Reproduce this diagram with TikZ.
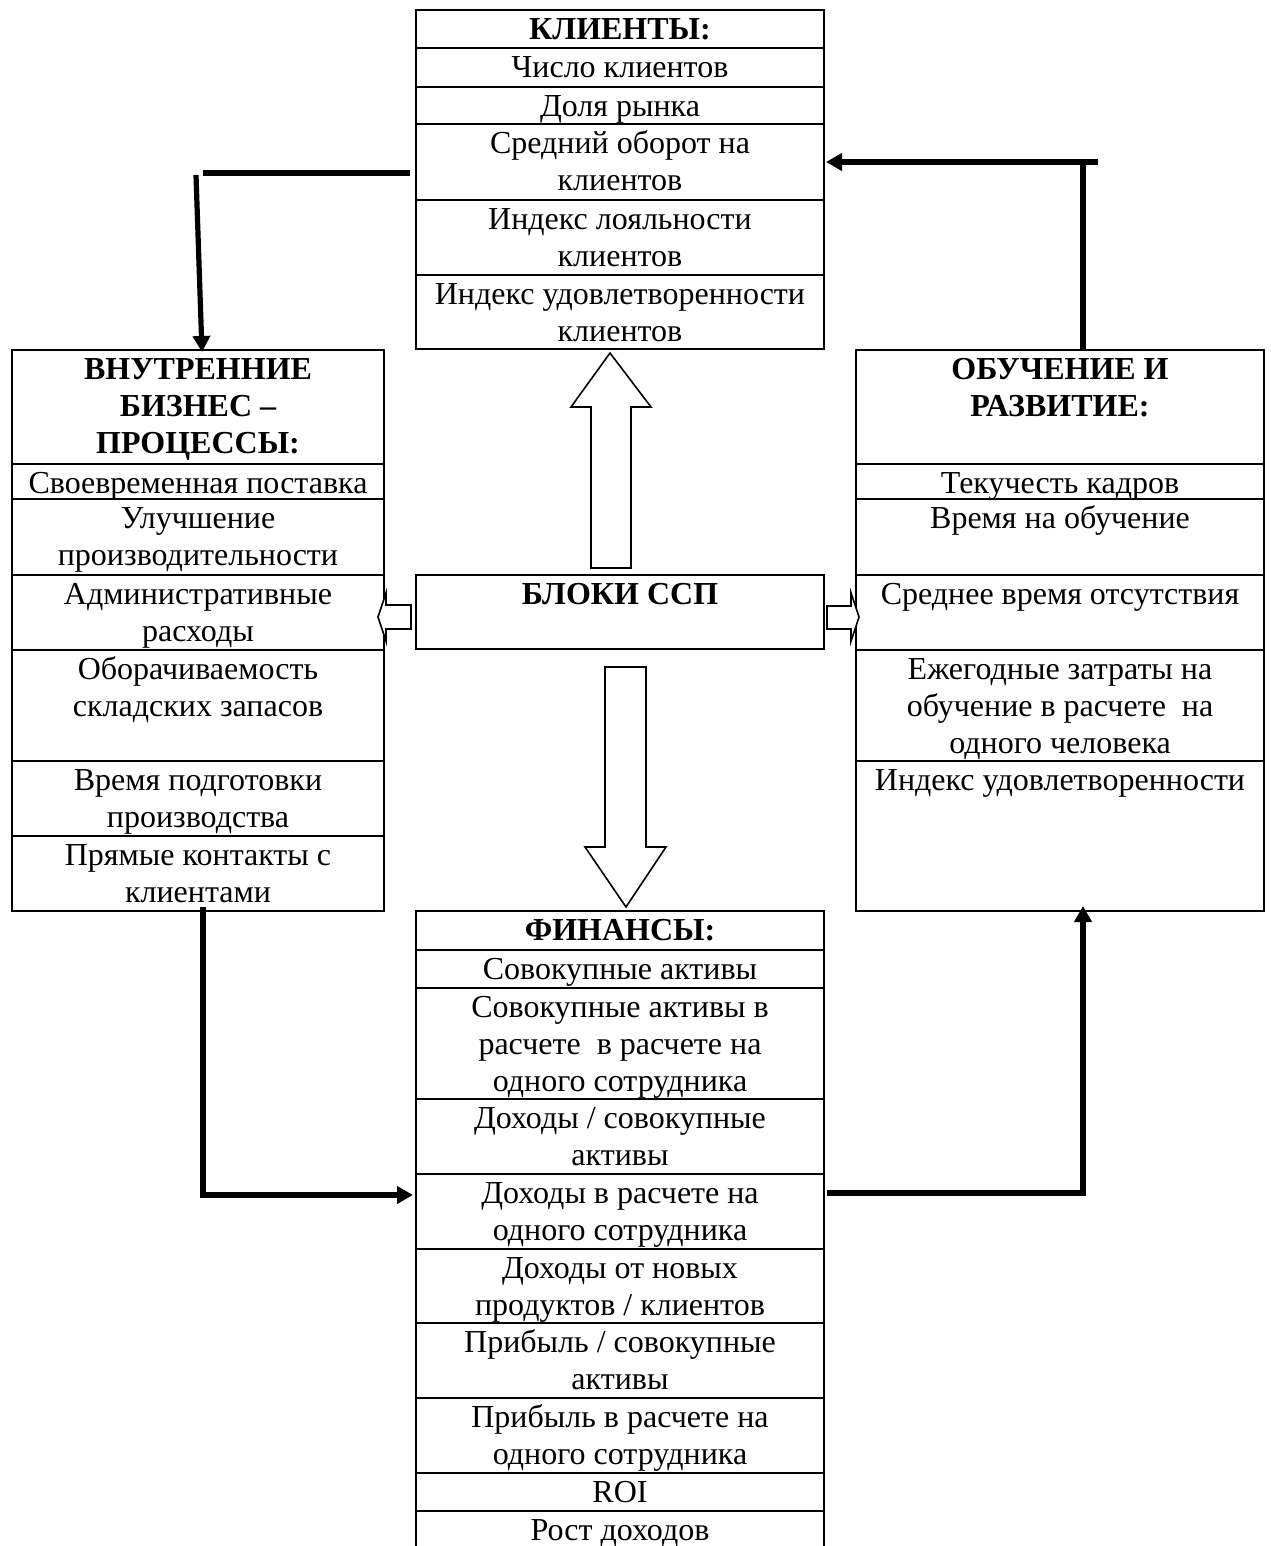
\documentclass[tikz,border=0pt]{standalone}
\usepackage{fontspec}
\setmainfont{Liberation Serif}
\usetikzlibrary{arrows.meta}
\tikzset{
  cell/.style={anchor=north, align=center, inner sep=0pt, font=\fontsize{16}{18.5}\selectfont},
  hcell/.style={anchor=north, align=center, inner sep=0pt, font=\fontsize{16}{18.5}\selectfont\bfseries},
  frame/.style={line width=1.1pt},
  conn/.style={line width=2.6pt},
  tipped/.style={-{Triangle[length=8pt,width=8.5pt]}},
  blockarrow/.style={line width=0.8pt, fill=white, line join=miter},
}
\begin{document}
\begin{tikzpicture}[x=0.5pt,y=-0.5pt]
\useasboundingbox (0,0) rectangle (1270,1546);
\fill[white] (0,0) rectangle (1270,1546);

% ---------- КЛИЕНТЫ ----------
\draw[frame] (416,10) rectangle (824,349);
\foreach \yy in {48,87,124,200,275} \draw[frame] (416,\yy) -- (824,\yy);
\node[hcell] (k0) at (620,13) {\strut КЛИЕНТЫ:};
\node[cell] (k1) at (620,51) {\strut Число клиентов};
\node[cell] (k2) at (620,90) {\strut Доля рынка};
\node[cell] (k3) at (620,127) {\strut Средний оборот на\\клиентов};
\node[cell] (k4) at (620,203) {\strut Индекс лояльности\\клиентов};
\node[cell] (k5) at (620,278) {\strut Индекс удовлетворенности\\клиентов};

% ---------- ВНУТРЕННИЕ БИЗНЕС-ПРОЦЕССЫ ----------
\draw[frame] (12,350) rectangle (384,911);
\foreach \yy in {464,499,575,650,761,836} \draw[frame] (12,\yy) -- (384,\yy);
\node[hcell] (v0) at (198,353) {\strut ВНУТРЕННИЕ\\БИЗНЕС –\\ПРОЦЕССЫ:};
\node[cell] (v1) at (198,467) {\strut Своевременная поставка};
\node[cell] (v2) at (198,502) {\strut Улучшение\\производительности};
\node[cell] (v3) at (198,578) {\strut Административные\\расходы};
\node[cell] (v4) at (198,653) {\strut Оборачиваемость\\складских запасов};
\node[cell] (v5) at (198,764) {\strut Время подготовки\\производства};
\node[cell] (v6) at (198,839) {\strut Прямые контакты с\\клиентами};

% ---------- ОБУЧЕНИЕ И РАЗВИТИЕ ----------
\draw[frame] (856,350) rectangle (1264,911);
\foreach \yy in {464,499,575,650,761} \draw[frame] (856,\yy) -- (1264,\yy);
\node[hcell] (o0) at (1060,353) {\strut ОБУЧЕНИЕ И\\РАЗВИТИЕ:};
\node[cell] (o1) at (1060,467) {\strut Текучесть кадров};
\node[cell] (o2) at (1060,502) {\strut Время на обучение};
\node[cell] (o3) at (1060,578) {\strut Среднее время отсутствия};
\node[cell] (o4) at (1060,653) {\strut Ежегодные затраты на\\обучение в расчете~ на\\одного человека};
\node[cell] (o5) at (1060,764) {\strut Индекс удовлетворенности};

% ---------- БЛОКИ ССП ----------
\draw[frame] (416,575) rectangle (824,649);
\node[hcell] (b0) at (620,578) {\strut БЛОКИ ССП};

% ---------- ФИНАНСЫ ----------
\draw[frame] (416,1546) -- (416,911) -- (824,911) -- (824,1546);
\foreach \yy in {950,988,1099,1174,1249,1323,1398,1473,1511} \draw[frame] (416,\yy) -- (824,\yy);
\node[hcell] (f0) at (620,914) {\strut ФИНАНСЫ:};
\node[cell] (f1) at (620,953) {\strut Совокупные активы};
\node[cell] (f2) at (620,991) {\strut Совокупные активы в\\расчете~ в расчете на\\одного сотрудника};
\node[cell] (f3) at (620,1102) {\strut Доходы / совокупные\\активы};
\node[cell] (f4) at (620,1177) {\strut Доходы в расчете на\\одного сотрудника};
\node[cell] (f5) at (620,1252) {\strut Доходы от новых\\продуктов / клиентов};
\node[cell] (f6) at (620,1326) {\strut Прибыль / совокупные\\активы};
\node[cell] (f7) at (620,1401) {\strut Прибыль в расчете на\\одного сотрудника};
\node[cell] (f8) at (620,1476) {\strut ROI};
\node[cell] (f9) at (620,1514) {\strut Рост доходов};

% ---------- block arrows ----------
\draw[blockarrow] (591,568) -- (591,407) -- (571,407) -- (610,353) -- (651,407) -- (631,407) -- (631,568) -- cycle;
\draw[blockarrow] (605,667) -- (646,667) -- (646,847) -- (666,847) -- (626,907) -- (585,847) -- (605,847) -- cycle;
\draw[blockarrow] (411,605) -- (386,605) -- (386,593) -- (378,617) -- (386,641) -- (386,629) -- (411,629) -- cycle;
\draw[blockarrow] (827,606) -- (851,606) -- (851,593) -- (859,617) -- (851,641) -- (851,629) -- (827,629) -- cycle;

% ---------- connectors ----------
\coordinate (a1) at (410,173);
\coordinate (a2) at (203,173);
\coordinate (a3) at (196,175);
\coordinate (a4) at (202,352);
\draw[conn] (a1) -- (a2);
\draw[conn,tipped] (a3) -- (a4);

\coordinate (b1) at (1098,162);
\coordinate (b2) at (826,162);
\coordinate (b3) at (1083,350);
\coordinate (b4) at (1083,162);
\draw[conn,tipped] (b1) -- (b2);
\draw[conn] (b3) -- (b4);

\coordinate (c1) at (203,907);
\coordinate (c2) at (203,1195);
\coordinate (c3) at (413,1195);
\draw[conn,tipped] (c1) -- (c2) -- (c3);

\coordinate (d1) at (827,1193);
\coordinate (d2) at (1083,1193);
\coordinate (d3) at (1083,906);
\draw[conn,tipped] (d1) -- (d2) -- (d3);
\end{tikzpicture}
\end{document}
